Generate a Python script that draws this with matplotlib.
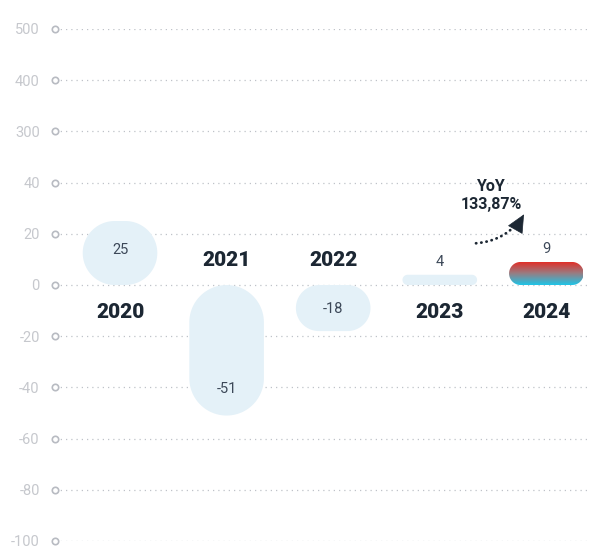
import numpy as np
import matplotlib
matplotlib.use("Agg")
import matplotlib.pyplot as plt
from matplotlib.patches import PathPatch, FancyArrowPatch
from matplotlib.path import Path
from matplotlib.transforms import IdentityTransform
from matplotlib.colors import LinearSegmentedColormap

# ---- data ----
years = ["2020", "2021", "2022", "2023", "2024"]
values = [25, -51, -18, 4, 9]
tick_values = [-100, -80, -60, -40, -20, 0, 20, 40, 300, 400, 500]
tick_labels = ["-100", "-80", "-60", "-40", "-20", "0", "20", "40", "300", "400", "500"]
yoy_label = "YoY\n133,87%"

plt.rcParams['font.family'] = ['Roboto', 'DejaVu Sans']

# broken (piecewise-linear) y scale
bp_val = [-100, 0, 40, 300, 500]
bp_pos = [-5, 0, 2, 3, 5]
def fwd(v):
    v = np.asarray(v, dtype=float)
    return np.interp(v, bp_val, bp_pos)
def inv(p):
    p = np.asarray(p, dtype=float)
    return np.interp(p, bp_pos, bp_val)

def rounded_rect(x, y, w, h, r, n=24):
    r = min(r, w / 2, h / 2)
    pts = []
    corners = [(x + w - r, y + r, -90, 0), (x + w - r, y + h - r, 0, 90),
               (x + r, y + h - r, 90, 180), (x + r, y + r, 180, 270)]
    for cx, cy, a0, a1 in corners:
        t = np.radians(np.linspace(a0, a1, n))
        pts.extend(zip(cx + r * np.cos(t), cy + r * np.sin(t)))
    pts.append(pts[0])
    return Path(np.array(pts), closed=True)

W, H, DPI = 589, 548, 100
fig = plt.figure(figsize=(W / DPI, H / DPI), dpi=DPI)
ax = fig.add_axes([55 / W, (H - 541) / H, (W - 55) / W, (541 - 29) / H])
ax.set_yscale('function', functions=(fwd, inv))
ax.set_ylim(-100, 500)
ax.set_xlim(-0.61, 4.40)
for s in ax.spines.values():
    s.set_visible(False)
ax.set_xticks([])
ax.set_yticks(tick_values)
ax.set_yticklabels(tick_labels)
ax.minorticks_off()
ax.tick_params(axis='y', length=0, pad=11, labelsize=10.5, labelcolor='#c6c8cd')

grid_col = '#bfc2c8'
for tv in tick_values:
    ax.axhline(tv, color=grid_col, lw=0.9, ls=(0, (1, 3.2)), zorder=1)
ax.plot([-0.61] * len(tick_values), tick_values, 'o', ms=4.6, mfc='white',
        mec='#b8bbc2', mew=1.2, clip_on=False, zorder=3)

bar_w = 0.70
light = '#e4f1f8'
cmap = LinearSegmentedColormap.from_list('g', ['#22c2e4', '#9a7b80', '#e42b24'])
to_px = ax.transData.transform
k = 72 / DPI
for i, (yr, v) in enumerate(zip(years, values)):
    (x0, y0) = to_px((i - bar_w / 2, 0))
    (x1, y1) = to_px((i + bar_w / 2, v))
    bx, by = min(x0, x1), min(y0, y1)
    bw, bh = abs(x1 - x0), abs(y1 - y0)
    last = i == len(years) - 1
    patch = PathPatch(rounded_rect(bx, by, bw, bh, min(bw, bh) / 2),
                      transform=IdentityTransform(),
                      fc='none' if last else light, ec='none', zorder=2)
    ax.add_patch(patch)
    if last:
        grad = np.linspace(0, 1, 256).reshape(-1, 1)
        im = ax.imshow(grad, cmap=cmap, origin='lower', aspect='auto',
                       extent=(i - bar_w / 2, i + bar_w / 2, 0, v), zorder=2)
        im.set_clip_path(patch)
    sgn = 1 if v > 0 else -1
    # value label (visual centre offset from bar end, then baseline)
    if bh > 30:
        off = -sgn * min(28, bh / 2)
    else:
        off = sgn * 14
    ax.annotate(str(v), xy=(i, v), xytext=(0, (off - 5) * k), textcoords='offset points',
                ha='center', va='baseline', fontsize=10.5, color='#3c4858', zorder=4)
    # year label
    ax.annotate(yr, xy=(i, 0), xytext=(0, (-sgn * 26 - 7) * k), textcoords='offset points',
                ha='center', va='baseline', fontsize=15, fontweight='heavy',
                color='#1c2733', zorder=4)

# YoY annotation
ink = '#1c2733'
ax.text(3.48, 35.0, yoy_label, ha='center', va='center', fontsize=11.5,
        fontweight='bold', color=ink, linespacing=1.25, zorder=4)
tip = (3.79, 27.6)
curve = FancyArrowPatch((3.34, 16.3), tip, arrowstyle='-',
                        connectionstyle='arc3,rad=0.25', shrinkA=0, shrinkB=9,
                        lw=2.0, ls=(0, (0.1, 1.8)), color=ink, zorder=4,
                        capstyle='round')
ax.add_patch(curve)
head = FancyArrowPatch((3.745, 24.3), tip,
                       arrowstyle='-|>,head_length=0.6,head_width=0.28',
                       mutation_scale=20, shrinkA=0, shrinkB=0,
                       lw=0.5, color=ink, zorder=4)
ax.add_patch(head)

fig.savefig('out.png', dpi=DPI)
